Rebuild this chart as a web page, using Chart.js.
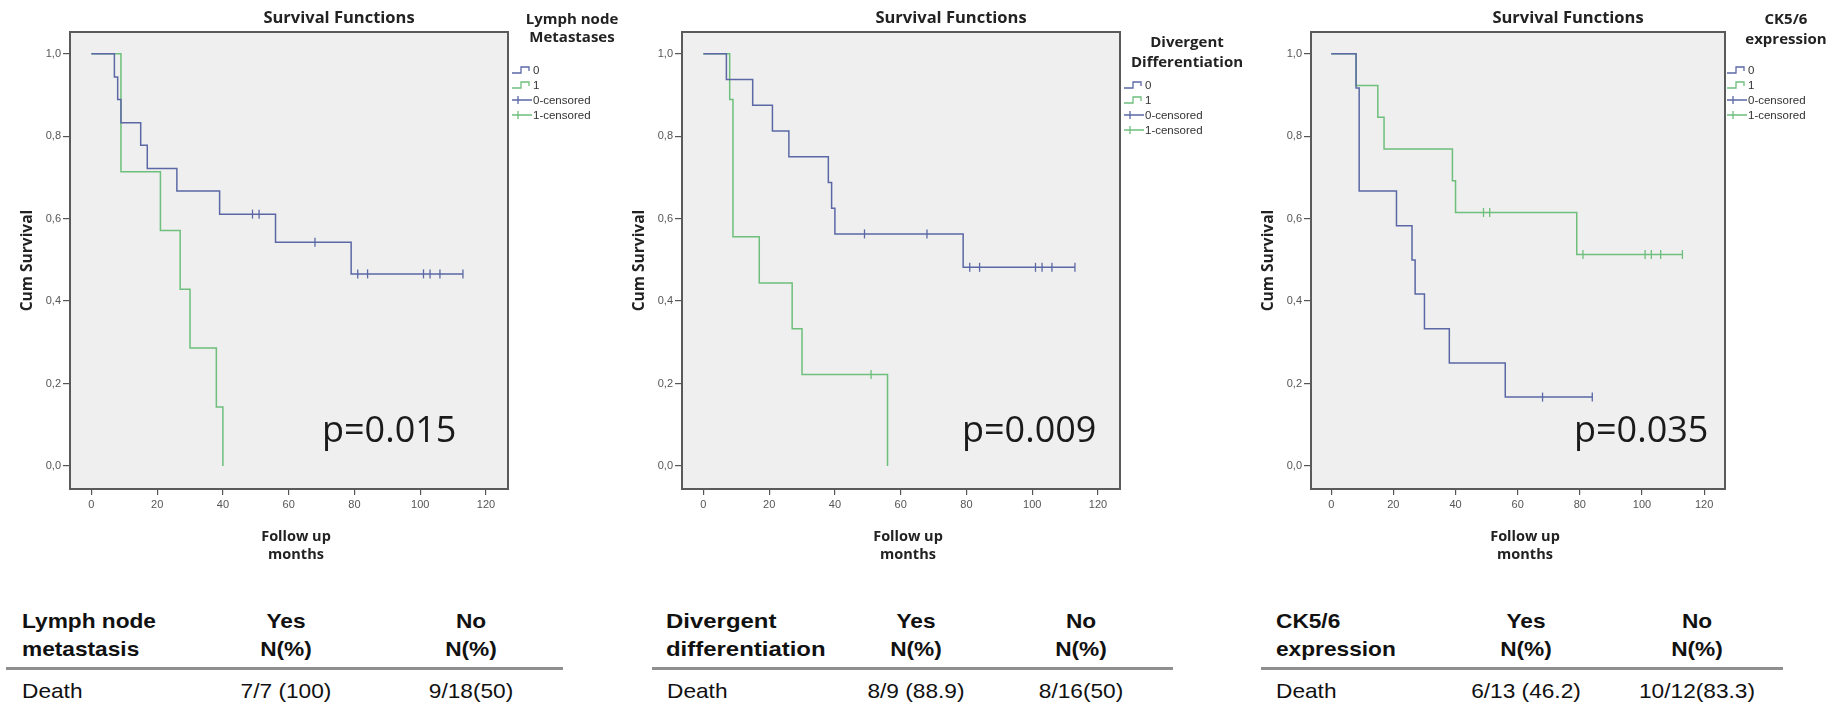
<!DOCTYPE html>
<html>
<head>
<meta charset="utf-8">
<script src="https://cdn.jsdelivr.net/npm/chart.js@4.4.1/dist/chart.umd.min.js"></script>
<style>
html,body{margin:0;padding:0;background:#fff;width:1848px;height:706px;overflow:hidden;position:relative;}
canvas{position:absolute;top:0;}
.t{position:absolute;font-family:"Liberation Sans",Arial,sans-serif;font-size:21px;line-height:21px;color:#111;white-space:nowrap;transform-origin:left center;transform:scaleX(1.08);}
.b{font-weight:bold;}
.w{transform:scaleX(1.14);}
.c{text-align:center;width:200px;transform-origin:center center;}
.rule{position:absolute;height:3px;background:#8f8f8f;}
</style>
</head>
<body>
<canvas id="c1" width="620" height="575" style="left:0px"></canvas>
<canvas id="c2" width="630" height="575" style="left:620px"></canvas>
<canvas id="c3" width="598" height="575" style="left:1250px"></canvas>
<div id="table"></div>
<script>
// ---------- DATA ----------
// Panel 1: Lymph node Metastases
const lnm0Times = [0, 7, 8, 9, 15, 17, 26, 39, 56, 79, 113];
const lnm0Surv  = [1, 0.944, 0.889, 0.833, 0.778, 0.722, 0.667, 0.611, 0.543, 0.466, 0.466];
const lnm0CensTimes = [49, 51, 68, 81, 84, 101, 103, 106, 113];
const lnm0CensSurv  = [0.611, 0.611, 0.543, 0.466, 0.466, 0.466, 0.466, 0.466, 0.466];
const lnm1Times = [0, 9, 21, 27, 30, 38, 40];
const lnm1Surv  = [1, 0.714, 0.571, 0.429, 0.286, 0.143, 0];
const lnm1CensTimes = [];
const lnm1CensSurv  = [];

// Panel 2: Divergent Differentiation
const dd0Times = [0, 7, 15, 21, 26, 38, 39, 40, 79, 113];
const dd0Surv  = [1, 0.938, 0.875, 0.813, 0.75, 0.688, 0.625, 0.563, 0.482, 0.482];
const dd0CensTimes = [49, 68, 81, 84, 101, 103, 106, 113];
const dd0CensSurv  = [0.563, 0.563, 0.482, 0.482, 0.482, 0.482, 0.482, 0.482];
const dd1Times = [0, 8, 9, 17, 27, 30, 56];
const dd1Surv  = [1, 0.889, 0.556, 0.444, 0.333, 0.222, 0];
const dd1CensTimes = [51];
const dd1CensSurv  = [0.222];

// Panel 3: CK5/6 expression
const ck0Times = [0, 8, 9, 21, 26, 27, 30, 38, 56, 84];
const ck0Surv  = [1, 0.917, 0.667, 0.583, 0.5, 0.417, 0.333, 0.25, 0.167, 0.167];
const ck0CensTimes = [68, 84];
const ck0CensSurv  = [0.167, 0.167];
const ck1Times = [0, 8, 15, 17, 39, 40, 79, 113];
const ck1Surv  = [1, 0.923, 0.846, 0.769, 0.692, 0.615, 0.513, 0.513];
const ck1CensTimes = [49, 51, 81, 101, 103, 106, 113];
const ck1CensSurv  = [0.615, 0.615, 0.513, 0.513, 0.513, 0.513, 0.513];

const legendLabels = ["0", "1", "0-censored", "1-censored"];
const pValues = ["p=0.015", "p=0.009", "p=0.035"];
const legendTitles = [["Lymph node", "Metastases"], ["Divergent", "Differentiation"], ["CK5/6", "expression"]];

// Table
const tableHeaders = [["Lymph node", "metastasis"], ["Divergent", "differentiation"], ["CK5/6", "expression"]];
const colHeadYes = ["Yes", "N(%)"];
const colHeadNo = ["No", "N(%)"];
const rowLabel = "Death";
const deathYes = ["7/7 (100)", "8/9 (88.9)", "6/13 (46.2)"];
const deathNo  = ["9/18(50)", "8/16(50)", "10/12(83.3)"];

// ---------- STYLE ----------
const BLUE = '#5b68a5';
const GREEN = '#6dbf7b';
const xMin = -6.5, xMax = 126.7, yMin = -0.056, yMax = 1.053;

function zip(xs, ys) { return xs.map((x, i) => ({x: x, y: ys[i]})); }

function decor(p) {
  return {
    id: 'decor' + p.idx,
    beforeDraw(chart) {
      const ctx = chart.ctx, a = chart.chartArea;
      ctx.save();
      ctx.fillStyle = '#efefef';
      ctx.fillRect(a.left, a.top, a.right - a.left, a.bottom - a.top);
      ctx.restore();
    },
    afterDraw(chart) {
      const ctx = chart.ctx, a = chart.chartArea;
      const cx = (a.left + a.right) / 2, cy = (a.top + a.bottom) / 2;
      ctx.save();
      ctx.strokeStyle = '#5a5a5a'; ctx.lineWidth = 2;
      ctx.strokeRect(a.left, a.top, a.right - a.left, a.bottom - a.top);
      ctx.fillStyle = '#222'; ctx.textAlign = 'center'; ctx.textBaseline = 'middle';
      ctx.font = 'bold 16.5px "Open Sans"';
      ctx.fillText('Survival Functions', cx + 50, 18);
      ctx.font = 'bold 14.5px "Open Sans"';
      ctx.fillText('Follow up', cx + 7, 537);
      ctx.fillText('months', cx + 7, 555);
      ctx.save();
      ctx.translate(a.left - 42, cy); ctx.rotate(-Math.PI / 2);
      ctx.font = 'bold 15.5px "Open Sans"';
      ctx.fillText('Cum Survival', 0, 0);
      ctx.restore();
      // legend title
      ctx.font = 'bold 15px "Open Sans"';
      legendTitles[p.idx].forEach((s, i) => ctx.fillText(s, a.right + p.lgTitleDx, p.lgTitleY[i]));
      // legend items
      const sx = a.right + p.lgDx;
      ctx.textAlign = 'left';
      ctx.font = '11.5px "Liberation Sans"';
      const cols = [BLUE, GREEN, BLUE, GREEN];
      legendLabels.forEach((lab, i) => {
        const y = p.lgY[i];
        ctx.strokeStyle = cols[i]; ctx.lineWidth = 1.3;
        ctx.beginPath();
        if (i < 2) {
          ctx.moveTo(sx, y + 3); ctx.lineTo(sx + 9, y + 3); ctx.lineTo(sx + 9, y - 3);
          ctx.lineTo(sx + 17, y - 3); ctx.lineTo(sx + 17, y + 1);
        } else {
          ctx.moveTo(sx, y); ctx.lineTo(sx + 20, y);
          ctx.moveTo(sx + 6, y - 4); ctx.lineTo(sx + 6, y + 4);
        }
        ctx.stroke();
        ctx.fillStyle = '#333';
        ctx.fillText(lab, sx + 21, y + 0.5);
      });
      // p-value
      ctx.textBaseline = 'alphabetic';
      ctx.font = '36px "Open Sans"';
      ctx.fillStyle = '#1a1a1a';
      ctx.fillText(pValues[p.idx], a.right + p.pDx, 442);
      ctx.restore();
    }
  };
}

function makeChart(p) {
  const tickFont = {family: '"Liberation Sans", Arial, sans-serif', size: 11};
  new Chart(document.getElementById(p.id), {
    type: 'scatter',
    data: {
      datasets: [
        {data: zip(p.t0, p.s0), showLine: true, stepped: true, borderColor: BLUE, borderWidth: 1.5, pointRadius: 0, fill: false},
        {data: zip(p.t1, p.s1), showLine: true, stepped: true, borderColor: GREEN, borderWidth: 1.5, pointRadius: 0, fill: false},
        {data: zip(p.c0t, p.c0s), showLine: false, pointStyle: 'line', rotation: 90, pointRadius: 4.5, borderColor: BLUE, backgroundColor: BLUE, borderWidth: 1.3},
        {data: zip(p.c1t, p.c1s), showLine: false, pointStyle: 'line', rotation: 90, pointRadius: 4.5, borderColor: GREEN, backgroundColor: GREEN, borderWidth: 1.3}
      ]
    },
    options: {
      responsive: false, animation: false, events: [],
      layout: {padding: {left: 0, top: 32, right: p.padRight, bottom: 26}},
      plugins: {legend: {display: false}, title: {display: false}, tooltip: {enabled: false}},
      scales: {
        x: {
          type: 'linear', min: xMin, max: xMax,
          afterFit(s) { s.height = 60; },
          ticks: {stepSize: 20, includeBounds: false, color: '#555', font: tickFont, padding: 3, maxRotation: 0, autoSkip: false},
          grid: {display: true, drawOnChartArea: false, drawTicks: true, tickLength: 6, color: '#555', lineWidth: 1.2},
          border: {display: false}
        },
        y: {
          type: 'linear', min: yMin, max: yMax,
          afterFit(s) { s.width = p.areaLeft; },
          ticks: {stepSize: 0.2, includeBounds: false, color: '#555', font: tickFont, padding: 2,
                  callback: v => v.toFixed(1).replace('.', ',')},
          grid: {display: true, drawOnChartArea: false, drawTicks: true, tickLength: 7, color: '#555', lineWidth: 1.2},
          border: {display: false}
        }
      }
    },
    plugins: [decor(p)]
  });
}

makeChart({idx: 0, id: 'c1', areaLeft: 70, padRight: 112,
  t0: lnm0Times, s0: lnm0Surv, t1: lnm1Times, s1: lnm1Surv,
  c0t: lnm0CensTimes, c0s: lnm0CensSurv, c1t: lnm1CensTimes, c1s: lnm1CensSurv,
  lgTitleDx: 64, lgTitleY: [20, 38], lgDx: 4, lgY: [70, 85, 100, 115], pDx: -186});
makeChart({idx: 1, id: 'c2', areaLeft: 62, padRight: 130,
  t0: dd0Times, s0: dd0Surv, t1: dd1Times, s1: dd1Surv,
  c0t: dd0CensTimes, c0s: dd0CensSurv, c1t: dd1CensTimes, c1s: dd1CensSurv,
  lgTitleDx: 67, lgTitleY: [43, 63], lgDx: 4, lgY: [85, 100, 115, 130], pDx: -158});
makeChart({idx: 2, id: 'c3', areaLeft: 61, padRight: 123,
  t0: ck0Times, s0: ck0Surv, t1: ck1Times, s1: ck1Surv,
  c0t: ck0CensTimes, c0s: ck0CensSurv, c1t: ck1CensTimes, c1s: ck1CensSurv,
  lgTitleDx: 61, lgTitleY: [20, 40], lgDx: 2, lgY: [70, 85, 100, 115], pDx: -151});

// ---------- TABLE ----------
const tbl = document.getElementById('table');
const headLeft = [22, 666, 1276];
const deathLeft = [22, 667, 1276];
const yesCenter = [286, 916, 1526];
const noCenter = [471, 1081, 1697];
const ruleSpan = [[6, 563], [652, 1173], [1261, 1783]];
function addText(txt, left, top, cls) {
  const d = document.createElement('div');
  d.className = 't ' + cls;
  d.style.left = left + 'px'; d.style.top = top + 'px';
  d.textContent = txt;
  tbl.appendChild(d);
}
const rowTops = [610, 638, 680];
for (let i = 0; i < 3; i++) {
  const extra = i === 1 ? ' w' : '';
  addText(tableHeaders[i][0], headLeft[i], rowTops[0], 'b' + extra);
  addText(tableHeaders[i][1], headLeft[i], rowTops[1], 'b' + extra);
  addText(colHeadYes[0], yesCenter[i] - 100, rowTops[0], 'b c');
  addText(colHeadYes[1], yesCenter[i] - 100, rowTops[1], 'b c');
  addText(colHeadNo[0], noCenter[i] - 100, rowTops[0], 'b c');
  addText(colHeadNo[1], noCenter[i] - 100, rowTops[1], 'b c');
  const r = document.createElement('div');
  r.className = 'rule';
  r.style.left = ruleSpan[i][0] + 'px'; r.style.width = (ruleSpan[i][1] - ruleSpan[i][0]) + 'px';
  r.style.top = '667px';
  tbl.appendChild(r);
  addText(rowLabel, deathLeft[i], rowTops[2], '');
  addText(deathYes[i], yesCenter[i] - 100, rowTops[2], 'c');
  addText(deathNo[i], noCenter[i] - 100, rowTops[2], 'c');
}
</script>
</body>
</html>
